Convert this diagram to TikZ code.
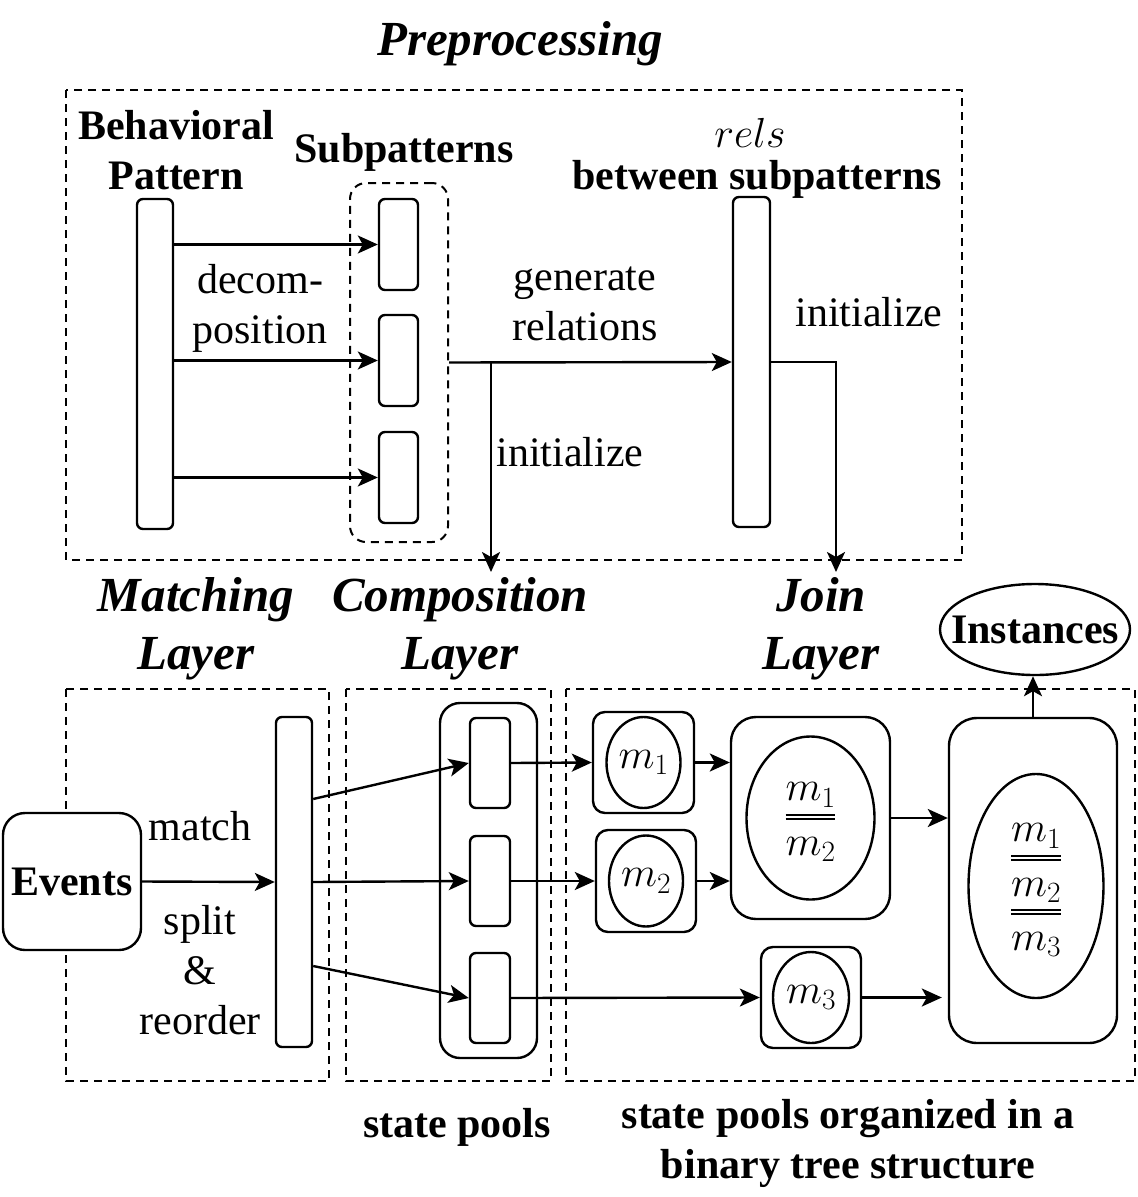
\RequirePackage{fix-cm}
\documentclass[tikz,border=0pt]{standalone}
\usepackage[no-math]{fontspec}
\setmainfont{Liberation Serif}
\usepackage{amsmath}
\usetikzlibrary{arrows.meta,shapes.geometric}
\setlength{\arrayrulewidth}{2.2pt}
\setlength{\doublerulesep}{4pt}

\begin{document}
\begin{tikzpicture}[x=1pt, y=-1pt, line width=2.4pt,
  font=\fontsize{42}{50}\selectfont,
  >={Stealth[length=20pt,width=18pt,inset=5pt]},
  dashbox/.style = {draw, line width=2pt, dash pattern=on 8pt off 6pt},
  bar/.style = {draw, rounded corners=6pt, inner sep=0pt, fill=white},
  pool/.style = {draw, rounded corners=12pt, inner sep=0pt},
  mem/.style = {draw, ellipse, inner sep=0pt},
  ttl/.style = {font=\fontsize{49}{58}\selectfont\bfseries\itshape, align=center},
  head/.style = {font=\fontsize{42}{50}\selectfont\bfseries, align=center},
  lbl/.style = {align=center}]
\useasboundingbox (0,0) rectangle (1138,1197);

% preprocessing
\node[ttl] (pre) at (520,44) {Preprocessing};
\draw[dashbox] (66,90) rectangle (962,560);
\node[head] (bph) at (176,150) {Behavioral\\Pattern};
\node[head] (sph) at (404,152) {Subpatterns};
\node (relm) at (750,133) {$rels$};
\node[head] (relh) at (757,179) {between subpatterns};

\node[bar, minimum width=36pt, minimum height=330pt] (bp) at (155,364) {};
\node[draw, line width=2pt, dash pattern=on 8pt off 6pt, rounded corners=16pt, minimum width=98pt, minimum height=359pt] (grp) at (399,362.5) {};
\node[bar, minimum width=39pt, minimum height=91pt] (sp1) at (398.5,244.5) {};
\node[bar, minimum width=39pt, minimum height=91pt] (sp2) at (398.5,360.5) {};
\node[bar, minimum width=39pt, minimum height=91pt] (sp3) at (398.5,477.5) {};
\node[bar, minimum width=37pt, minimum height=330pt] (rel) at (751.5,362) {};

\draw[->] (bp.east |- sp1) -- (sp1.west);
\draw[->] (bp.east |- sp2) -- (sp2.west);
\draw[->] (bp.east |- sp3) -- (sp3.west);

\coordinate (br) at (491,362.5);
\coordinate (ini1) at (491,572);
\coordinate (ini2) at (836,572);
\draw[->] (grp.east) -- (rel.west);
\draw[->] (br) -- (ini1);
\draw[->] (rel.east) -| (ini2);

\node[lbl] (dec) at (260,308) {decom-\\position};
\node[lbl] (gen) at (585,304) {generate\\relations};
\node (ini1l) at (570,452) {initialize};
\node (ini2l) at (869,312) {initialize};

% layers
\node[ttl] (ml) at (196,629) {Matching\\Layer};
\node[ttl] (cl) at (460,629) {Composition\\Layer};
\node[ttl] (jl) at (821,629) {Join\\Layer};
\node[head, mem, inner xsep=-17pt, minimum width=190pt, minimum height=91pt] (inst) at (1035,629.5) {Instances};
\draw[dashbox] (66,689) rectangle (329,1081);
\draw[dashbox] (346,689) rectangle (551,1081);
\draw[dashbox] (566,689) rectangle (1135,1081);

\node[head, draw, rounded corners=22pt, fill=white, inner sep=0pt, minimum width=138pt, minimum height=137pt] (ev) at (72,881.5) {Events};
\node[bar, minimum width=36pt, minimum height=330pt] (mb) at (294,882) {};
\draw[->] (ev.east) -- (mb.west);
\node (mat) at (200,826) {match};
\node[lbl] (spl) at (200,970) {split\\\&\\reorder};

\node[draw, rounded corners=20pt, minimum width=97pt, minimum height=355pt] (cp) at (488.5,880.5) {};
\node[bar, minimum width=40pt, minimum height=90pt] (c1) at (490,763) {};
\node[bar, minimum width=40pt, minimum height=90pt] (c2) at (490,881) {};
\node[bar, minimum width=40pt, minimum height=90pt] (c3) at (490,998) {};
\draw[->] ([yshift=83pt]mb.east) -- (c1.west);
\draw[->] (mb.east) -- (c2.west);
\draw[->] ([yshift=-84pt]mb.east) -- (c3.west);

\node[pool, minimum width=101pt, minimum height=101pt] (p1) at (643.5,762.5) {};
\node[mem, minimum width=74pt, minimum height=91pt] (e1) at (p1) {$m_1$};
\node[pool, minimum width=100pt, minimum height=102pt] (p2) at (646,881) {};
\node[mem, minimum width=74pt, minimum height=91pt] (e2) at (p2) {$m_2$};
\node[pool, rounded corners=25pt, minimum width=159pt, minimum height=202pt] (p12) at (810.5,818) {};
\node[mem, minimum width=128pt, minimum height=163pt] (e12) at (p12)
  {$\arraycolsep=0pt\begin{array}{c} m_1\\[-2pt]\hline\hline m_2\end{array}$};
\node[pool, minimum width=100pt, minimum height=101pt] (p3) at (811,997.5) {};
\node[mem, minimum width=76pt, minimum height=91pt] (e3) at (p3) {$m_3$};
\node[pool, rounded corners=28pt, minimum width=168pt, minimum height=325pt] (pall) at (1033,880.5) {};
\node[mem, minimum width=135pt, minimum height=221pt] (eall) at (1036,886)
  {$\arraycolsep=0pt\begin{array}{c} m_1\\[-2pt]\hline\hline m_2\\[-2pt]\hline\hline m_3\end{array}$};

\draw[->] (c1.east) -- (p1.west);
\draw[->] (c2.east) -- (p2.west);
\draw[->] (c3.east) -- (p3.west);
\draw[->] (p1.east) -- (p1.east -| p12.west);
\draw[->] (p2.east) -- (p2.east -| p12.west);
\draw[->] (p12.east) -- (p12.east -| pall.west);
\draw[->, shorten >=6pt] (p3.east) -- (p3.east -| pall.west);
\draw[->] (pall.north) -- (pall.north |- inst.south);

\node[head] (spool) at (457,1127) {state pools};
\node[head] (stree) at (848,1143) {state pools organized in a\\binary tree structure};
\end{tikzpicture}
\end{document}
